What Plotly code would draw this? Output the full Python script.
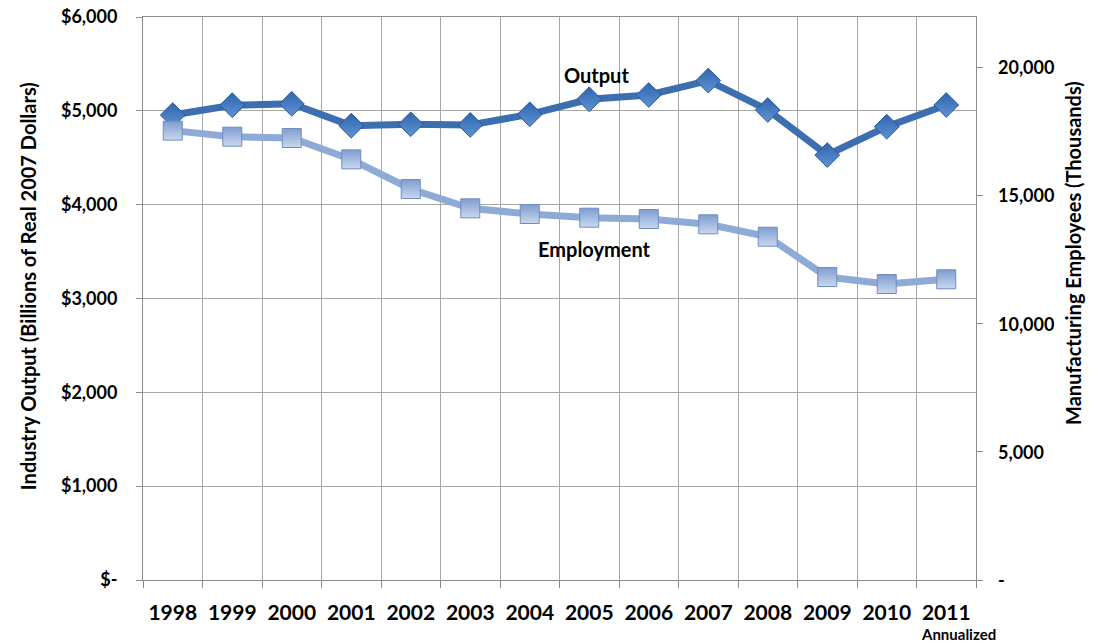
import plotly.graph_objects as go

years = ["1998", "1999", "2000", "2001", "2002", "2003", "2004",
         "2005", "2006", "2007", "2008", "2009", "2010", "2011"]
output_bn = [4955, 5060, 5075, 4842, 4857, 4850, 4963,
             5123, 5169, 5322, 5009, 4529, 4831, 5062]
employment_k = [17520, 17283, 17232, 16400, 15244, 14491, 14269,
                14125, 14074, 13867, 13385, 11813, 11540, 11723]

left_tickvals = [0, 1000, 2000, 3000, 4000, 5000, 6000]
left_ticktext = ["$-", "$1,000", "$2,000", "$3,000", "$4,000", "$5,000", "$6,000"]
right_tickvals = [0, 5000, 10000, 15000, 20000]
right_ticktext = ["-", "5,000", "10,000", "15,000", "20,000"]

FONT = "Lato"
grid = "#a6a6a6"
axis_col = "#8c8c8c"

fig = go.Figure()
fig.add_trace(go.Scatter(
    x=years, y=employment_k, yaxis="y2", mode="lines+markers",
    name="Employment",
    line=dict(color="#8eaad6", width=7),
    marker=dict(symbol="square", size=19, color="#7f9dcf",
                line=dict(color="#6f8dbf", width=1),
                gradient=dict(type="vertical", color="#c9d8ef")),
))
fig.add_trace(go.Scatter(
    x=years, y=output_bn, mode="lines+markers", name="Output",
    line=dict(color="#3c6eb0", width=7),
    marker=dict(symbol="diamond", size=19, color="#2f65ad",
                line=dict(color="#2a5896", width=1),
                gradient=dict(type="vertical", color="#5f93d6")),
))

annotations = [
    dict(x=-0.138, y=0.522, xref="paper", yref="paper", textangle=-90,
         xanchor="center", yanchor="middle",
         text="<b>Industry Output (Billions of Real 2007 Dollars)</b>",
         showarrow=False, font=dict(family=FONT, size=20)),
    dict(x=1.1165, y=0.581, xref="paper", yref="paper", textangle=-90,
         xanchor="center", yanchor="middle",
         text="<b>Manufacturing Employees (Thousands)</b>",
         showarrow=False, font=dict(family=FONT, size=20)),
    dict(x=7.13, y=5382, xref="x", yref="y", text="<b>Output</b>", showarrow=False,
         font=dict(family=FONT, size=20)),
    dict(x=7.08, y=3528, xref="x", yref="y", text="<b>Employment</b>", showarrow=False,
         font=dict(family=FONT, size=20)),
    dict(x=13, y=0, xref="x", yref="paper", text="<b>Annualized</b>", showarrow=False,
         xanchor="left", yanchor="top", xshift=-27, yshift=-43,
         font=dict(family=FONT, size=15)),
]
# right-axis tick labels (left aligned, as in the reference)
for v, t in zip(right_tickvals, right_ticktext):
    annotations.append(dict(x=1, y=v, xref="paper", yref="y2", text=f"<b>{t}</b>",
                            showarrow=False, xanchor="left", yanchor="middle",
                            xshift=20, font=dict(family=FONT, size=18)))

fig.update_layout(
    width=1091, height=635,
    margin=dict(l=135, r=123, t=9, b=63),
    paper_bgcolor="white", plot_bgcolor="white",
    showlegend=False,
    font=dict(family=FONT, size=19, color="black", weight="bold"),
    xaxis=dict(
        type="category", tickson="boundaries", range=[-0.5, 13.5],
        automargin=False,
        showgrid=True, gridcolor=grid, gridwidth=1,
        showline=True, linecolor=axis_col, linewidth=1, mirror=True,
        ticks="outside", ticklen=7, tickcolor=axis_col,
        ticklabelstandoff=14,
        tickfont=dict(family=FONT, size=21, weight="bold"),
        zeroline=False,
    ),
    yaxis=dict(
        range=[0, 6000], tickvals=left_tickvals, ticktext=left_ticktext,
        automargin=False, ticklabeloverflow="allow",
        showgrid=True, gridcolor=grid, gridwidth=1,
        showline=True, linecolor=axis_col, linewidth=1,
        ticks="outside", ticklen=6, tickcolor=axis_col,
        ticklabelstandoff=15,
        tickfont=dict(family=FONT, size=18, weight="bold"),
        zeroline=False,
    ),
    yaxis2=dict(
        overlaying="y", side="right", range=[0, 21950],
        automargin=False,
        tickvals=right_tickvals, showticklabels=False,
        showgrid=False,
        showline=True, linecolor=axis_col, linewidth=1,
        ticks="outside", ticklen=6, tickcolor=axis_col,
        zeroline=False,
    ),
    annotations=annotations,
)

fig.write_html("out.html")
